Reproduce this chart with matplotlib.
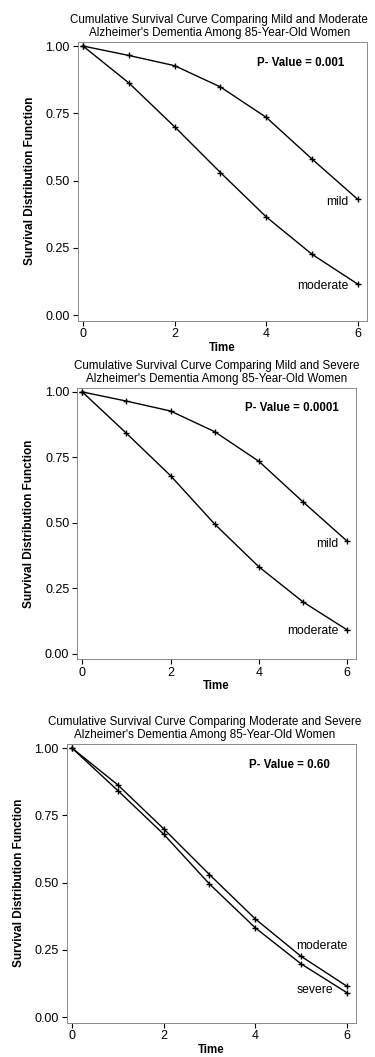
import matplotlib
matplotlib.use('Agg')
import matplotlib.pyplot as plt

plt.rcParams['font.family'] = ['Liberation Sans', 'DejaVu Sans']

FIG_W, FIG_H = 375, 1057

time = [0, 1, 2, 3, 4, 5, 6]
mild = [1.00, 0.965, 0.927, 0.848, 0.735, 0.580, 0.430]
moderate = [1.00, 0.863, 0.700, 0.530, 0.365, 0.226, 0.115]
severe = [1.00, 0.842, 0.680, 0.495, 0.332, 0.198, 0.091]

x_ticks = [0, 2, 4, 6]
y_ticks = [0.00, 0.25, 0.50, 0.75, 1.00]

titles = [
    'Cumulative Survival Curve Comparing Mild and Moderate\nAlzheimer\'s Dementia Among 85-Year-Old Women',
    'Cumulative Survival Curve Comparing Mild and Severe\nAlzheimer\'s Dementia Among 85-Year-Old Women',
    'Cumulative Survival Curve Comparing Moderate and Severe\nAlzheimer\'s Dementia Among 85-Year-Old Women',
]
p_values = ['0.001', '0.0001', '0.60']

# (series upper, series lower, label upper, label lower)
panels = [
    (mild, moderate, 'mild', 'moderate'),
    (mild, severe, 'mild', 'moderate'),
    (moderate, severe, 'moderate', 'severe'),
]

# axes boxes in pixels: left, top, right, bottom
boxes = [
    (77.5, 42, 367, 320.5),
    (77, 388, 356, 659),
    (66.5, 744, 356, 1022.5),
]
title_x = [0.49, 0.5, 0.478]


def px_rect(box):
    l, t, r, b = box
    return [l / FIG_W, 1 - b / FIG_H, (r - l) / FIG_W, (b - t) / FIG_H]


fig = plt.figure(figsize=(FIG_W / 100, FIG_H / 100), dpi=100)

for i, (upper, lower, lab_up, lab_low) in enumerate(panels):
    ax = fig.add_axes(px_rect(boxes[i]))
    ax.plot(time, upper, color='black', lw=1.0, marker='+', ms=5, mew=1.0)
    ax.plot(time, lower, color='black', lw=1.0, marker='+', ms=5, mew=1.0)

    ax.set_xlim(-0.12, 6.2)
    ax.set_ylim(-0.02, 1.015)
    ax.set_xticks(x_ticks)
    ax.set_yticks(y_ticks)
    ax.set_yticklabels(['%.2f' % v for v in y_ticks])
    ax.tick_params(direction='out', length=3.5, width=0.8, pad=2, labelsize=9)

    for s in ax.spines.values():
        s.set_color('#8a8a8a')
        s.set_linewidth(0.7)

    ax.set_title(titles[i], fontsize=8.4, pad=4, linespacing=1.15, x=title_x[i])
    ax.set_xlabel('Time', fontsize=8.3, fontweight='bold', labelpad=1)
    ax.set_ylabel('Survival Distribution Function', fontsize=8.5,
                  fontweight='bold', labelpad=7)

    ax.text(4.75, 0.938, 'P- Value = ' + p_values[i], fontsize=8.3,
            fontweight='bold', ha='center', va='center')

    if i < 2:
        ax.text(5.8, upper[-1] - 0.01, lab_up, fontsize=8.7, ha='right', va='center')
        ax.text(5.8, lower[-1] - 0.005, lab_low, fontsize=8.7, ha='right', va='center')
    else:
        ax.text(4.9, 0.266, lab_up, fontsize=8.7, ha='left', va='center')
        ax.text(4.9, 0.099, lab_low, fontsize=8.7, ha='left', va='center')

fig.savefig('out.png', dpi=100)
